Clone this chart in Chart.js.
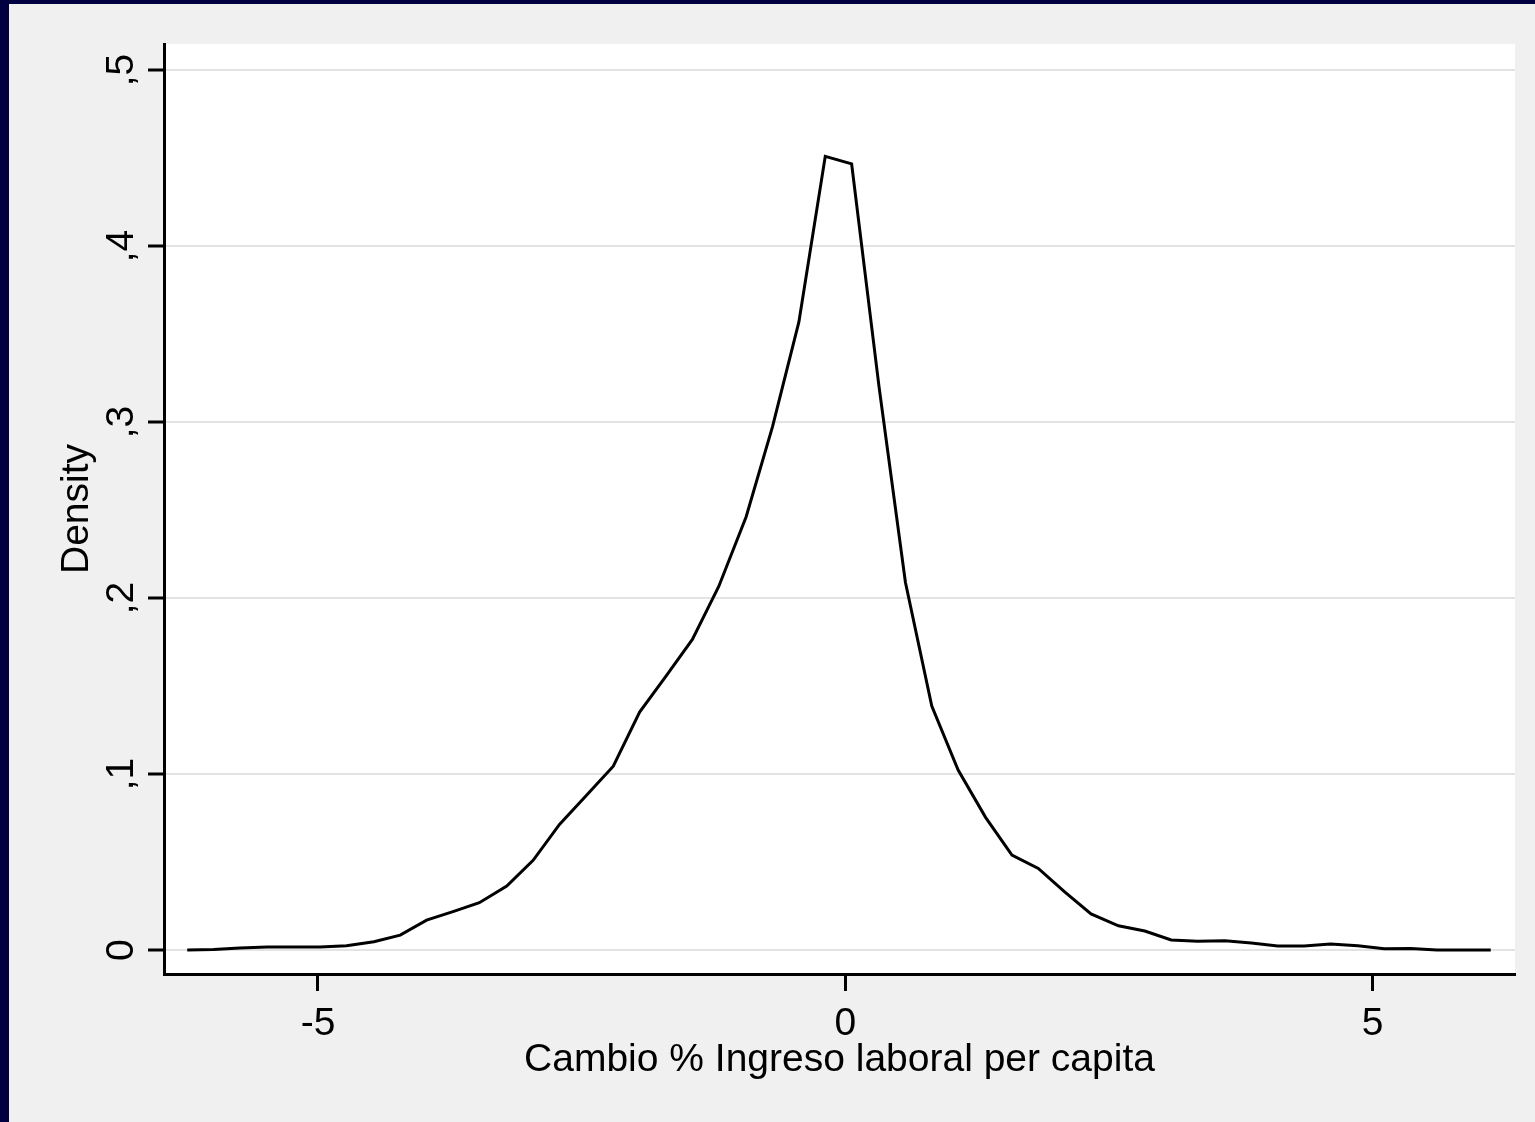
<!DOCTYPE html>
<html>
<head>
<meta charset="utf-8">
<script src="https://cdn.jsdelivr.net/npm/chart.js@4.4.1/dist/chart.umd.min.js"></script>
<style>
  html, body { margin: 0; padding: 0; background: #000040; }
  #wrap { position: absolute; left: 9px; top: 4px; width: 1526px; height: 1118px; background: #f0f0f0; }
  canvas { display: block; }
</style>
</head>
<body>
<div id="wrap"><canvas id="densityChart" width="1526" height="1118"></canvas></div>
<script>
// kdensity grid points
const xs = [
  -6.24, -5.99, -5.74, -5.48, -5.23, -4.98, -4.73, -4.47, -4.22, -3.97,
  -3.72, -3.47, -3.21, -2.96, -2.71, -2.46, -2.20, -1.95, -1.70, -1.45,
  -1.20, -0.94, -0.69, -0.44, -0.19, 0.06, 0.32, 0.57, 0.82, 1.07,
  1.33, 1.58, 1.83, 2.08, 2.33, 2.59, 2.84, 3.09, 3.34, 3.60,
  3.85, 4.10, 4.35, 4.60, 4.86, 5.11, 5.36, 5.61, 5.87, 6.12
];
const density = [
  0.0000, 0.0003, 0.0012, 0.0017, 0.0017, 0.0018, 0.0024, 0.0047, 0.0085, 0.0170,
  0.0218, 0.0269, 0.0364, 0.0510, 0.0714, 0.0875, 0.1045, 0.1352, 0.1557, 0.1765,
  0.2066, 0.2462, 0.2974, 0.3569, 0.4510, 0.4467, 0.3200, 0.2090, 0.1386, 0.1023,
  0.0754, 0.0540, 0.0464, 0.0331, 0.0205, 0.0138, 0.0108, 0.0057, 0.0050, 0.0053,
  0.0040, 0.0023, 0.0023, 0.0034, 0.0025, 0.0008, 0.0009, 0.0000, 0.0000, 0.0000
];
const xTicks = [-5, 0, 5];
const xTickLabels = ['-5', '0', '5'];
const yTicks = [0, 0.1, 0.2, 0.3, 0.4, 0.5];
const yTickLabels = ['0', ',1', ',2', ',3', ',4', ',5'];
const xTitle = 'Cambio % Ingreso laboral per capita';
const yTitle = 'Density';

const FONT = '39px "Liberation Sans", Arial, sans-serif';

const stataLook = {
    id: 'stataLook',
    beforeDraw(chart) {
        const { ctx, chartArea: a } = chart;
        ctx.save();
        ctx.fillStyle = '#ffffff';
        ctx.fillRect(a.left, a.top, a.right - a.left, a.bottom - a.top);
        ctx.restore();
    },
    afterDraw(chart) {
        const { ctx, chartArea: a } = chart;
        const sx = chart.scales.x, sy = chart.scales.y;
        ctx.save();
        ctx.fillStyle = '#000';
        ctx.font = FONT;
        ctx.textAlign = 'center';
        ctx.textBaseline = 'alphabetic';
        xTicks.forEach((v, i) => {
            ctx.fillText(xTickLabels[i], sx.getPixelForValue(v), 1031);
        });
        ctx.fillText(xTitle, (a.left + a.right) / 2, 1067);
        yTicks.forEach((v, i) => {
            ctx.save();
            ctx.translate(124, sy.getPixelForValue(v));
            ctx.rotate(-Math.PI / 2);
            ctx.fillText(yTickLabels[i], 0, 0);
            ctx.restore();
        });
        ctx.translate(79, (a.top + a.bottom) / 2);
        ctx.rotate(-Math.PI / 2);
        ctx.fillText(yTitle, 0, 0);
        ctx.restore();
    }
};

new Chart(document.getElementById('densityChart'), {
    type: 'line',
    data: {
        datasets: [{
            data: xs.map((x, i) => ({ x: x, y: density[i] })),
            borderColor: '#000',
            borderWidth: 3,
            pointRadius: 0,
            tension: 0,
            fill: false,
        }],
    },
    options: {
        responsive: false,
        animation: false,
        devicePixelRatio: 1,
        layout: { padding: { top: 40, right: 20, left: 0, bottom: 0 } },
        plugins: {
            legend: { display: false },
            tooltip: { enabled: false },
        },
        scales: {
            x: {
                type: 'linear',
                min: -6.46,
                max: 6.35,
                afterBuildTicks: (s) => { s.ticks = xTicks.map(v => ({ value: v })); },
                afterFit: (s) => { s.height = 148; },
                ticks: { display: false },
                grid: { drawOnChartArea: false, tickLength: 17, tickColor: '#000', tickWidth: 3 },
                border: { display: true, color: '#000', width: 3 },
            },
            y: {
                type: 'linear',
                min: -0.0136,
                max: 0.5148,
                afterBuildTicks: (s) => { s.ticks = yTicks.map(v => ({ value: v })); },
                afterFit: (s) => { s.width = 155; },
                ticks: { display: false },
                grid: { color: '#e3e3e3', lineWidth: 2, tickLength: 16, tickColor: '#000', tickWidth: 3 },
                border: { display: true, color: '#000', width: 3 },
            },
        },
    },
    plugins: [stataLook],
});
</script>
</body>
</html>
